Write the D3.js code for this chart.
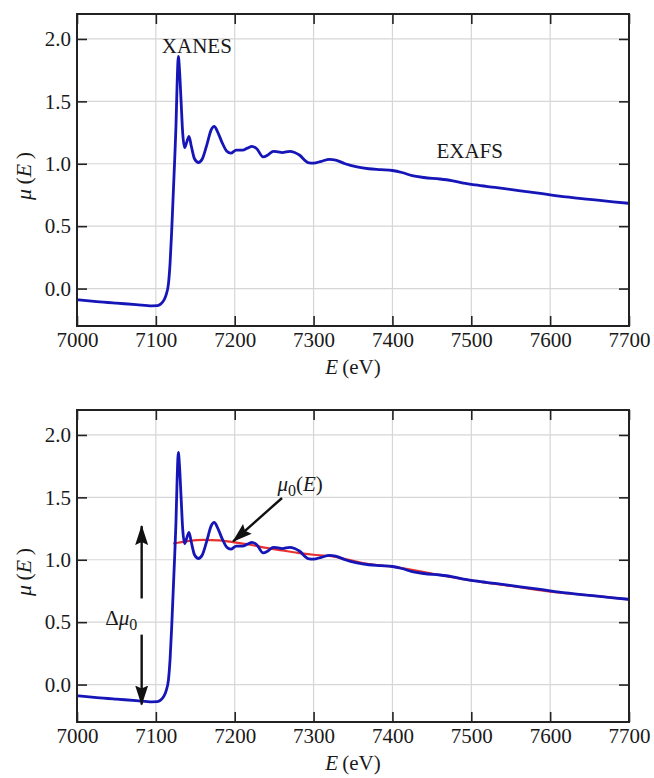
<!DOCTYPE html>
<html>
<head>
<meta charset="utf-8">
<script src="https://cdn.jsdelivr.net/npm/d3@7"></script>
<style>
  body { margin: 0; background: #fff; }
  svg text { font-family: "Liberation Serif", "Times New Roman", Times, "DejaVu Serif", serif !important; fill: #1a1a1a; }
</style>
</head>
<body>
<div id="domain"></div>
<script>
// DATA
var energy = [7000, 7025, 7050, 7075, 7095, 7102, 7106, 7110, 7113, 7116, 7118, 7120, 7122, 7124, 7125.5, 7127, 7128.5,
    7130, 7132, 7134, 7136.5, 7139, 7142, 7145, 7149, 7154, 7159, 7165, 7170, 7174, 7178, 7184, 7190, 7195,
    7202, 7210, 7216, 7222, 7228, 7236, 7242, 7249, 7255, 7260, 7270, 7276, 7282, 7293, 7300, 7310, 7320, 7328,
    7340, 7355, 7370, 7385, 7400, 7412, 7425, 7440, 7460, 7475, 7490, 7505, 7530, 7560, 7590, 7620, 7650, 7680, 7700];
var mu = [-0.09, -0.105, -0.117, -0.128, -0.138, -0.137, -0.125, -0.095, -0.05, 0.04, 0.2, 0.45, 0.75, 1.05, 1.3, 1.65, 1.86,
    1.75, 1.5, 1.25, 1.13, 1.17, 1.22, 1.14, 1.04, 1.01, 1.04, 1.16, 1.27, 1.30, 1.26, 1.17, 1.10, 1.085,
    1.11, 1.11, 1.125, 1.14, 1.12, 1.055, 1.07, 1.10, 1.095, 1.09, 1.10, 1.09, 1.07, 1.01, 1.005, 1.02, 1.035, 1.03,
    1.0, 0.975, 0.96, 0.953, 0.946, 0.93, 0.905, 0.89, 0.878, 0.865, 0.845, 0.83, 0.81, 0.785, 0.76, 0.735, 0.715, 0.695, 0.683];

// smooth background mu0(E)
var energyBg = [7122, 7140, 7160, 7180, 7200, 7220, 7240, 7260, 7280, 7300, 7320, 7340, 7370, 7400, 7450, 7500, 7550, 7600, 7650, 7700];
var muBg = [1.13, 1.15, 1.16, 1.155, 1.14, 1.12, 1.095, 1.075, 1.055, 1.04, 1.03, 1.005, 0.965, 0.945, 0.89, 0.835, 0.79, 0.745, 0.715, 0.683];

var xTicks = [7000, 7100, 7200, 7300, 7400, 7500, 7600, 7700];
var yTicks = [0.0, 0.5, 1.0, 1.5, 2.0];

var series = energy.map((e, i) => ({ e: e, v: mu[i] }));
var seriesBg = energyBg.map((e, i) => ({ e: e, v: muBg[i] }));

var FONT = '"Liberation Serif", "Times New Roman", Times, "DejaVu Serif", serif';

//SVG
var width = 654,
    height = 778;

var svg = d3
    .select('#domain')
    .append("svg")
    .attr("width", width)
    .attr("height", height)
    .attr("font-family", FONT);

var defs = svg.append("defs");
defs.append("marker")
    .attr("id", "head")
    .attr("markerUnits", "userSpaceOnUse")
    .attr("markerWidth", 20)
    .attr("markerHeight", 14)
    .attr("refX", 19)
    .attr("refY", 6.5)
    .attr("orient", "auto")
    .append("path")
    .attr("d", "M0,0 L20,6.5 L0,13 L3,6.5 Z")
    .attr("fill", "#111");

var x = d3.scaleLinear().domain([7000, 7700]).range([77, 629]);

function drawPanel(top, withBg) {
    var y = d3.scaleLinear().domain([-0.3, 2.2]).range([top + 312, top]);
    var g = svg.append("g");

    //GRID
    g.selectAll(".gx").data(xTicks).enter().append("line")
        .attr("x1", d => x(d)).attr("x2", d => x(d))
        .attr("y1", y(-0.3)).attr("y2", y(2.2))
        .attr("stroke", "#d6d6d6").attr("stroke-width", 1.2);
    g.selectAll(".gy").data(yTicks).enter().append("line")
        .attr("x1", x(7000)).attr("x2", x(7700))
        .attr("y1", d => y(d)).attr("y2", d => y(d))
        .attr("stroke", "#d6d6d6").attr("stroke-width", 1.2);

    //AXES (ticks inward)
    var ax = [
        g.append("g").attr("transform", `translate(0,${y(-0.3)})`)
            .call(d3.axisBottom(x).tickValues(xTicks).tickSize(-10).tickPadding(6).tickFormat(d3.format("d"))),
        g.append("g").attr("transform", `translate(0,${y(2.2)})`)
            .call(d3.axisTop(x).tickValues(xTicks).tickSize(-10).tickFormat("")),
        g.append("g").attr("transform", `translate(${x(7000)},0)`)
            .call(d3.axisLeft(y).tickValues(yTicks).tickSize(-10).tickPadding(6).tickFormat(d3.format(".1f"))),
        g.append("g").attr("transform", `translate(${x(7700)},0)`)
            .call(d3.axisRight(y).tickValues(yTicks).tickSize(-10).tickFormat(""))
    ];
    ax.forEach(a => {
        a.attr("font-family", FONT).attr("font-size", 21);
        a.select(".domain").remove();
        a.selectAll(".tick line").attr("stroke", "#222").attr("stroke-width", 1.6);
        a.selectAll("text").attr("fill", "#1a1a1a");
    });

    //CURVES
    var line = d3.line().x(d => x(d.e)).y(d => y(d.v)).curve(d3.curveMonotoneX);
    if (withBg) {
        g.append("path").datum(seriesBg).attr("d", line)
            .attr("fill", "none").attr("stroke", "#e8302c").attr("stroke-width", 2.2);
    }
    g.append("path").datum(series).attr("d", line)
        .attr("fill", "none").attr("stroke", "#1616b8").attr("stroke-width", 2.8)
        .attr("stroke-linejoin", "round");

    //FRAME
    g.append("rect")
        .attr("x", x(7000)).attr("y", y(2.2))
        .attr("width", x(7700) - x(7000)).attr("height", y(-0.3) - y(2.2))
        .attr("fill", "none").attr("stroke", "#222").attr("stroke-width", 2);

    //AXIS LABELS
    var xl = g.append("text")
        .attr("x", (x(7000) + x(7700)) / 2).attr("y", y(-0.3) + 48)
        .attr("text-anchor", "middle").attr("font-size", 21);
    xl.append("tspan").attr("font-style", "italic").text("E");
    xl.append("tspan").text("\u2009(eV)");

    var yl = g.append("text")
        .attr("transform", `translate(31,${(y(-0.3) + y(2.2)) / 2 + 6}) rotate(-90)`)
        .attr("text-anchor", "middle").attr("font-size", 22);
    yl.append("tspan").attr("font-style", "italic").text("\u03bc");
    yl.append("tspan").text("\u2009(");
    yl.append("tspan").attr("font-style", "italic").text("E");
    yl.append("tspan").text("\u2009)");

    return y;
}

var y1 = drawPanel(14, false);
var y2 = drawPanel(410, true);

//TOP LABELS
svg.append("text").attr("x", x(7152)).attr("y", y1(1.89))
    .attr("text-anchor", "middle").attr("font-size", 21).text("XANES");
svg.append("text").attr("x", x(7498)).attr("y", y1(1.05))
    .attr("text-anchor", "middle").attr("font-size", 21).text("EXAFS");

//BOTTOM ANNOTATIONS
svg.append("line")
    .attr("x1", x(7082)).attr("x2", x(7082))
    .attr("y1", y2(0.69)).attr("y2", y2(1.27))
    .attr("stroke", "#111").attr("stroke-width", 2.4).attr("marker-end", "url(#head)");
svg.append("line")
    .attr("x1", x(7082)).attr("x2", x(7082))
    .attr("y1", y2(0.40)).attr("y2", y2(-0.16))
    .attr("stroke", "#111").attr("stroke-width", 2.4).attr("marker-end", "url(#head)");
svg.append("line")
    .attr("x1", x(7260)).attr("x2", x(7198))
    .attr("y1", y2(1.495)).attr("y2", y2(1.147))
    .attr("stroke", "#111").attr("stroke-width", 2.4).attr("marker-end", "url(#head)");

var dl = svg.append("text").attr("x", x(7056)).attr("y", y2(0.48))
    .attr("text-anchor", "middle").attr("font-size", 21);
dl.append("tspan").text("\u0394");
dl.append("tspan").attr("font-style", "italic").text("\u03bc");
dl.append("tspan").attr("dy", 5).attr("font-size", 16).text("0");

var ml = svg.append("text").attr("x", x(7283)).attr("y", y2(1.55))
    .attr("text-anchor", "middle").attr("font-size", 21);
ml.append("tspan").attr("font-style", "italic").text("\u03bc");
ml.append("tspan").attr("dy", 5).attr("font-size", 16).text("0");
ml.append("tspan").attr("dy", -5).text("(");
ml.append("tspan").attr("font-style", "italic").text("E");
ml.append("tspan").text(")");
</script>
</body>
</html>
